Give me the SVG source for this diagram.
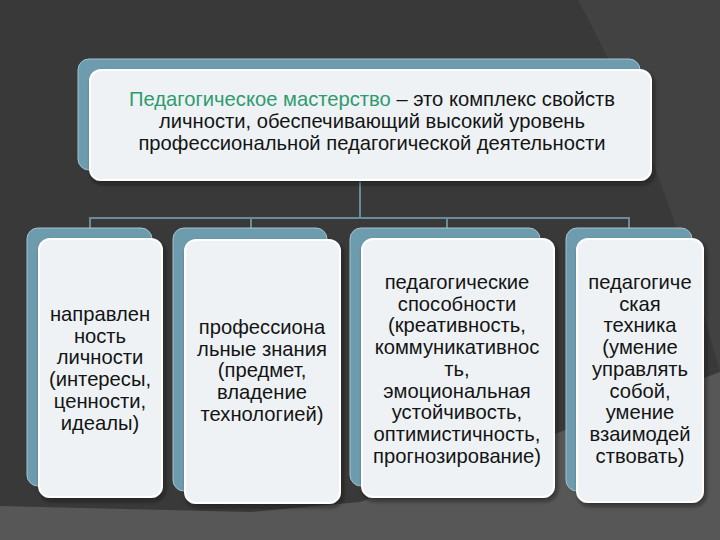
<svg xmlns="http://www.w3.org/2000/svg" width="720" height="540" viewBox="0 0 720 540">
  <defs>
    <filter id="sh" x="-10%" y="-10%" width="130%" height="130%">
      <feDropShadow dx="2" dy="3" stdDeviation="2" flood-color="#111" flood-opacity="0.6"/>
    </filter>
    <style>
      .back { fill: #6d9cae; stroke: #a7c4cf; stroke-width: 1; }
      .front { fill: #eef2f5; stroke: #ffffff; stroke-width: 2; filter: url(#sh); }
      .conn { stroke: #6a8c98; stroke-width: 2; fill: none; }
      .t { font-family: "Liberation Sans", Arial, sans-serif; font-size: 20.2px; fill: #141414; text-anchor: middle; }
      .g { fill: #2e9b6e; }
    </style>
  </defs>

  <!-- background -->
  <rect x="0" y="0" width="720" height="540" fill="#393939"/>
  <path d="M578,0 L720,0 L720,372 C700,300 660,150 578,0 Z" fill="#424242"/>
  <path d="M0,506 L250,512 L360,502 L560,432 L720,372 L720,540 L0,540 Z" fill="#575757"/>

  <!-- connectors -->
  <g id="connectors">
    <path class="conn" d="M360,180 V218"/>
    <path class="conn" d="M90,228 V218 H629 V228"/>
    <path class="conn" d="M251,218 V228"/>
    <path class="conn" d="M447,218 V228"/>
  </g>

  <!-- top node -->
  <g id="node-top">
    <rect class="back" x="78" y="59" width="562" height="111" rx="11"/>
    <rect class="front" x="90" y="70" width="561" height="110" rx="11"/>
    <text class="t" x="372" y="106"><tspan class="g">Педагогическое мастерство</tspan> – это комплекс свойств</text>
    <text class="t" x="372" y="128">личности, обеспечивающий высокий уровень</text>
    <text class="t" x="372" y="150">профессиональной педагогической деятельности</text>
  </g>

  <!-- node 1 -->
  <g id="node-1">
    <rect class="back" x="27" y="228" width="125" height="258" rx="11"/>
    <rect class="front" x="39" y="239" width="123" height="258" rx="11"/>
    <text class="t" x="100" y="321">направлен</text>
    <text class="t" x="100" y="342.7">ность</text>
    <text class="t" x="100" y="364.4">личности</text>
    <text class="t" x="100" y="386.1">(интересы,</text>
    <text class="t" x="100" y="407.8">ценности,</text>
    <text class="t" x="100" y="429.5">идеалы)</text>
  </g>

  <!-- node 2 -->
  <g id="node-2">
    <rect class="back" x="173" y="228" width="154" height="263" rx="11"/>
    <rect class="front" x="185" y="240" width="155" height="263" rx="11"/>
    <text class="t" x="262" y="334">профессиона</text>
    <text class="t" x="262" y="355.7">льные знания</text>
    <text class="t" x="262" y="377.4">(предмет,</text>
    <text class="t" x="262" y="399.1">владение</text>
    <text class="t" x="262" y="420.8">технологией)</text>
  </g>

  <!-- node 3 -->
  <g id="node-3">
    <rect class="back" x="350" y="228" width="190" height="258" rx="11"/>
    <rect class="front" x="362" y="239" width="192" height="258" rx="11"/>
    <text class="t" x="457" y="289">педагогические</text>
    <text class="t" x="457" y="310.7">способности</text>
    <text class="t" x="457" y="332.4">(креативность,</text>
    <text class="t" x="457" y="354.1">коммуникативнос</text>
    <text class="t" x="457" y="375.8">ть,</text>
    <text class="t" x="457" y="397.5">эмоциональная</text>
    <text class="t" x="457" y="419.2">устойчивость,</text>
    <text class="t" x="457" y="440.9">оптимистичность,</text>
    <text class="t" x="457" y="462.6">прогнозирование)</text>
  </g>

  <!-- node 4 -->
  <g id="node-4">
    <rect class="back" x="566" y="228" width="126" height="263" rx="11"/>
    <rect class="front" x="577" y="239" width="126" height="263" rx="11"/>
    <text class="t" x="640" y="289">педагогиче</text>
    <text class="t" x="640" y="310.7">ская</text>
    <text class="t" x="640" y="332.4">техника</text>
    <text class="t" x="640" y="354.1">(умение</text>
    <text class="t" x="640" y="375.8">управлять</text>
    <text class="t" x="640" y="397.5">собой,</text>
    <text class="t" x="640" y="419.2">умение</text>
    <text class="t" x="640" y="440.9">взаимодей</text>
    <text class="t" x="640" y="462.6">ствовать)</text>
  </g>
</svg>
